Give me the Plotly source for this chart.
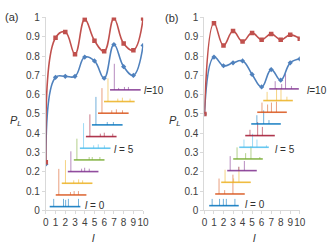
import plotly.graph_objects as go

W, H = 334, 251
l_vals = list(range(11))

# Panel (a) curves
red_a = [0.25, 0.895, 0.925, 0.81, 0.99, 0.88, 0.825, 0.995, 0.865, 0.83, 0.995]
blue_a = [0.24, 0.69, 0.695, 0.695, 0.795, 0.775, 0.685, 0.86, 0.745, 0.70, 0.855]
# Panel (b) curves
red_b = [0.5, 0.97, 0.855, 0.93, 0.875, 0.92, 0.885, 0.915, 0.885, 0.91, 0.89]
blue_b = [0.5, 0.795, 0.75, 0.765, 0.775, 0.705, 0.64, 0.73, 0.675, 0.765, 0.785]

# Inset spectra: (relative position along baseline, spike height) per l
spec_a = [
    [(0.13, 0.04), (0.45, 0.04), (0.52, 0.035), (0.61, 0.04), (0.94, 0.04)],
    [(0.10, 0.135), (0.48, 0.015), (0.60, 0.02), (0.74, 0.02)],
    [(0.12, 0.12), (0.39, 0.015), (0.55, 0.02), (0.68, 0.015)],
    [(0.10, 0.105), (0.45, 0.015), (0.55, 0.02), (0.70, 0.015)],
    [(0.10, 0.11), (0.50, 0.015), (0.60, 0.015), (0.85, 0.015)],
    [(0.12, 0.13), (0.45, 0.015), (0.60, 0.02), (0.80, 0.015)],
    [(0.13, 0.115), (0.47, 0.015), (0.60, 0.02), (0.875, 0.015)],
    [(0.13, 0.145), (0.50, 0.015), (0.70, 0.015)],
    [(0.13, 0.13), (0.45, 0.015), (0.60, 0.02), (0.80, 0.015)],
    [(0.13, 0.12), (0.45, 0.015), (0.60, 0.02), (0.85, 0.015)],
    [(0.14, 0.135), (0.28, 0.01), (0.47, 0.015), (0.60, 0.015)],
]
spec_b = [
    [(0.10, 0.035), (0.35, 0.035), (0.48, 0.035), (0.58, 0.035), (0.87, 0.035)],
    [(0.13, 0.08), (0.32, 0.02), (0.60, 0.10)],
    [(0.13, 0.065), (0.42, 0.02), (0.60, 0.08)],
    [(0.10, 0.075), (0.39, 0.02), (0.58, 0.05)],
    [(0.13, 0.06), (0.42, 0.03), (0.60, 0.065), (0.90, 0.01)],
    [(0.16, 0.04), (0.45, 0.07), (0.60, 0.04), (0.92, 0.01)],
    [(0.16, 0.03), (0.42, 0.07), (0.58, 0.045)],
    [(0.19, 0.045), (0.42, 0.07), (0.60, 0.02)],
    [(0.16, 0.05), (0.35, 0.04), (0.48, 0.05), (0.65, 0.055)],
    [(0.13, 0.045), (0.45, 0.065), (0.60, 0.065), (0.80, 0.02)],
    [(0.20, 0.04), (0.42, 0.025), (0.55, 0.08), (0.75, 0.015)],
]
spec_colors = ["#0072BD", "#D95319", "#EDB120", "#7E2F8E", "#77AC30", "#4DBEEE",
               "#A2142F", "#0072BD", "#D95319", "#EDB120", "#7E2F8E"]

RED = "#C0504D"
BLUE = "#4F81BD"
AX = "#D9D9D9"
TXT = "#404040"
FONT = "Liberation Sans"

fig = go.Figure()


def add_spectra(spec, x0, dx, y0, dy, length, xa, ya):
    for i, peaks in enumerate(spec):
        bx = x0 + dx * i
        by = y0 + dy * i
        sx, sy = [], []
        for f, h in peaks:
            px = bx + f * length
            sx += [px, px, None]
            sy += [by, by + h, None]
        fig.add_trace(go.Scatter(x=sx, y=sy, mode="lines", xaxis=xa, yaxis=ya,
                                 line=dict(color=spec_colors[i], width=1),
                                 opacity=0.55, showlegend=False, hoverinfo="skip"))
        fig.add_trace(go.Scatter(x=[bx, bx + length], y=[by, by], mode="lines",
                                 xaxis=xa, yaxis=ya,
                                 line=dict(color=spec_colors[i], width=1.6),
                                 opacity=0.85, showlegend=False, hoverinfo="skip"))


add_spectra(spec_a, 0.4, 0.62, 0.02, 0.0605, 3.15, "x", "y")
add_spectra(spec_b, 0.5, 0.63, 0.025, 0.0605, 3.1, "x2", "y2")

for xa, ya, red, blue in [("x", "y", red_a, blue_a), ("x2", "y2", red_b, blue_b)]:
    fig.add_trace(go.Scatter(x=l_vals, y=blue, mode="lines+markers", xaxis=xa, yaxis=ya,
                             line=dict(color=BLUE, width=1.6, shape="spline", smoothing=1.2),
                             marker=dict(symbol="diamond", size=4, color=BLUE),
                             showlegend=False))
    fig.add_trace(go.Scatter(x=l_vals, y=red, mode="lines+markers", xaxis=xa, yaxis=ya,
                             line=dict(color=RED, width=1.6, shape="spline", smoothing=1.2),
                             marker=dict(symbol="square", size=4.5, color=RED),
                             showlegend=False))


def px(x):
    return x / W


def py(y):
    return 1 - y / H


ydom = [py(214), py(13)]
xcommon = dict(range=[0, 10], dtick=1, tick0=0, showline=True, linecolor=AX, linewidth=1,
               ticks="outside", ticklen=3, tickcolor=AX, showgrid=False, zeroline=False,
               tickangle=0, tickfont=dict(size=10, color=TXT, family=FONT))
ycommon = dict(range=[0, 1], dtick=0.1, tick0=0, showline=True, linecolor=AX, linewidth=1,
               ticks="outside", ticklen=3, tickcolor=AX, showgrid=False, zeroline=False,
               tickfont=dict(size=10, color=TXT, family=FONT))

fig.update_layout(
    width=W, height=H, margin=dict(l=0, r=0, t=0, b=0),
    paper_bgcolor="white", plot_bgcolor="white",
    xaxis=dict(domain=[px(44), px(144)], anchor="y", **xcommon),
    yaxis=dict(domain=ydom, anchor="x", **ycommon),
    xaxis2=dict(domain=[px(207), px(305)], anchor="y2", **xcommon),
    yaxis2=dict(domain=ydom, anchor="x2", **ycommon),
)

ann = [
    ("(a)", 9, 12, 11, "center"),
    ("(b)", 173, 14, 11, "center"),
    ("<i>P</i><sub><i>L</i></sub>", 13, 121, 11, "center"),
    ("<i>P</i><sub><i>L</i></sub>", 177, 121, 11, "center"),
    ("<i>l</i>", 93, 243, 11, "center"),
    ("<i>l</i>", 258, 243, 11, "center"),
    ("<i>l</i>=10", 143, 89, 10, "left"),
    ("<i>l</i> = 5", 112, 150, 10, "left"),
    ("<i>l</i> = 0", 82, 209, 10, "left"),
    ("<i>l</i>=10", 310, 89, 10, "left"),
    ("<i>l</i> = 5", 277, 150, 10, "left"),
    ("<i>l</i> = 0", 247, 208, 10, "left"),
]
for text, x, y, s, anc in ann:
    fig.add_annotation(text=text, x=px(x), y=py(y), xref="paper", yref="paper",
                       showarrow=False, xanchor=anc, yanchor="middle",
                       font=dict(size=s, color="#303030", family=FONT))

fig.write_html("out.html", config={"displayModeBar": False},
               post_script="document.body.style.margin='0';document.body.style.overflow='hidden';")
